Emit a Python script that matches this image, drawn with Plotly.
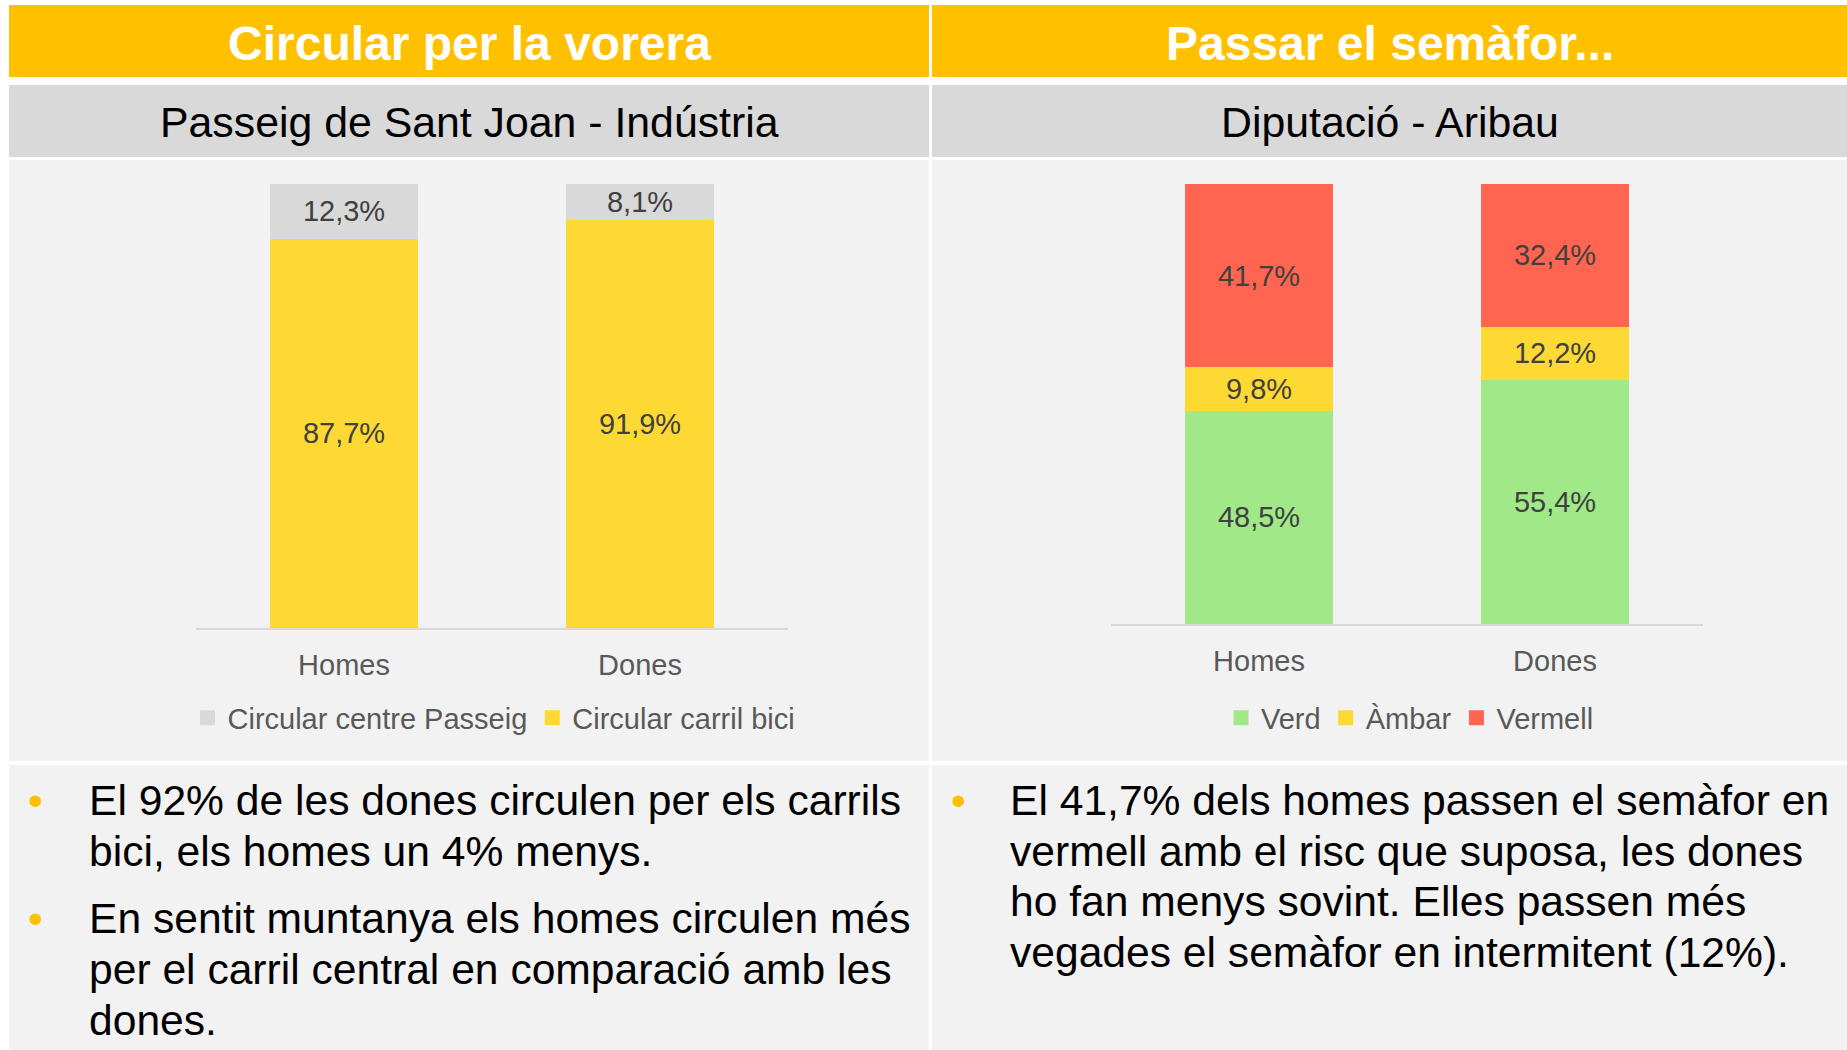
import plotly.graph_objects as go

W, H = 1847, 1050

# ---------------- data ----------------
left_title = "Circular per la vorera"
right_title = "Passar el semàfor..."
left_sub = "Passeig de Sant Joan - Indústria"
right_sub = "Diputació - Aribau"

categories = ["Homes", "Dones"]

carril_bici_name = "Circular carril bici"
centre_passeig_name = "Circular centre Passeig"
carril_bici = [87.7, 91.9]
centre_passeig = [12.3, 8.1]

verd_name, ambar_name, vermell_name = "Verd", "Àmbar", "Vermell"
verd = [48.5, 55.4]
ambar = [9.8, 12.2]
vermell = [41.7, 32.4]

left_notes = [
    ["El 92% de les dones circulen per els carrils", "bici, els homes un 4% menys."],
    ["En sentit muntanya els homes circulen més", "per el carril central en comparació amb les", "dones."],
]
right_notes = [
    ["El 41,7% dels homes passen el semàfor en", "vermell amb el risc que suposa, les dones",
     "ho fan menys sovint. Elles passen més", "vegades el semàfor en intermitent (12%)."],
]

# ---------------- styles ----------------
FONT = "'Liberation Sans', Arial, sans-serif"
C_HEAD = "#FFC000"
C_SUB = "#D9D9D9"
C_PANEL = "#F2F2F2"
C_GRAYBAR = "#D9D9D9"
C_YELLOW = "#FFD933"
C_GREEN = "#A0E888"
C_RED = "#FF6550"
C_LABEL = "#404040"
C_AXIS = "#595959"


def px(x):
    return x / W


def py(y):
    return 1 - y / H


fig = go.Figure()

bar_common = dict(
    texttemplate="%{y:.1f}%",
    textposition="inside",
    insidetextanchor="middle",
    constraintext="none",
    textangle=0,
    textfont=dict(family=FONT, size=29, color=C_LABEL),
    marker_line_width=0,
    hoverinfo="skip",
    showlegend=False,
)

fig.add_trace(go.Bar(x=categories, y=carril_bici, name=carril_bici_name, marker_color=C_YELLOW,
                     xaxis="x", yaxis="y", **bar_common))
fig.add_trace(go.Bar(x=categories, y=centre_passeig, name=centre_passeig_name, marker_color=C_GRAYBAR,
                     xaxis="x", yaxis="y", **bar_common))

fig.add_trace(go.Bar(x=categories, y=verd, name=verd_name, marker_color=C_GREEN,
                     xaxis="x2", yaxis="y2", **bar_common))
fig.add_trace(go.Bar(x=categories, y=ambar, name=ambar_name, marker_color=C_YELLOW,
                     xaxis="x2", yaxis="y2", **bar_common))
fig.add_trace(go.Bar(x=categories, y=vermell, name=vermell_name, marker_color=C_RED,
                     xaxis="x2", yaxis="y2", **bar_common))

# legend entries (square keys like the original)
legend_items = [
    (centre_passeig_name, C_GRAYBAR, "legend", "x", "y"),
    (carril_bici_name, C_YELLOW, "legend", "x", "y"),
    (verd_name, C_GREEN, "legend2", "x2", "y2"),
    (ambar_name, C_YELLOW, "legend2", "x2", "y2"),
    (vermell_name, C_RED, "legend2", "x2", "y2"),
]
for name, color, leg, xa, ya in legend_items:
    fig.add_trace(go.Scatter(x=[None], y=[None], mode="markers", name=name, legend=leg,
                             xaxis=xa, yaxis=ya, hoverinfo="skip",
                             marker=dict(symbol="square", size=15, color=color, line_width=0)))

shapes = []


def rect(x0, y0, x1, y1, color):
    shapes.append(dict(type="rect", xref="paper", yref="paper", x0=px(x0), x1=px(x1),
                       y0=py(y1), y1=py(y0), fillcolor=color, line_width=0, layer="below"))


for (x0, x1) in [(9, 929), (932, 1847)]:
    rect(x0, 5, x1, 77, C_HEAD)
    rect(x0, 85, x1, 157, C_SUB)
    rect(x0, 160, x1, 761, C_PANEL)
    rect(x0, 765, x1, 1050, C_PANEL)

annotations = []


def text(x, y, s, size, color, bold=False, xanchor="center"):
    annotations.append(dict(x=px(x), y=py(y), xref="paper", yref="paper", text=f"<b>{s}</b>" if bold else s,
                            showarrow=False, xanchor=xanchor, yanchor="middle",
                            font=dict(family=FONT, size=size, color=color)))


text(469, 44, left_title, 48, "white", bold=True)
text(1390, 44, right_title, 48, "white", bold=True)
text(469, 122, left_sub, 42.8, "black")
text(1390, 122, right_sub, 42.8, "black")


def notes(paras, bx, tx, first_baseline, line_step, para_step):
    y = first_baseline
    for p in paras:
        text(bx, y - 14, "•", 42, C_HEAD)
        for line in p:
            text(tx, y - 14, line, 42.6, "black", xanchor="left")
            y += line_step
        y += para_step - line_step


notes(left_notes, 35, 87, 814, 51, 67)
notes(right_notes, 958, 1008, 814, 50.7, 67)

axis_common = dict(showline=True, linecolor="#D9D9D9", linewidth=2, ticks="", showgrid=False,
                   zeroline=False, tickfont=dict(family=FONT, size=29, color=C_AXIS), fixedrange=True,
                   ticklabelstandoff=10)
yaxis_common = dict(range=[0, 100], visible=False, fixedrange=True)

legend_common = dict(orientation="h", xanchor="center", yanchor="middle", y=py(718),
                     font=dict(family=FONT, size=29, color=C_AXIS), bgcolor="rgba(0,0,0,0)",
                     itemwidth=30, itemclick=False, itemdoubleclick=False, traceorder="normal")

fig.update_layout(
    width=W, height=H,
    margin=dict(l=0, r=0, t=0, b=0),
    paper_bgcolor="white", plot_bgcolor="rgba(0,0,0,0)",
    barmode="stack", bargap=0.5,
    separators=",.",
    font=dict(family=FONT),
    xaxis=dict(domain=[px(196), px(788)], anchor="y", **axis_common),
    yaxis=dict(domain=[py(628), py(184)], anchor="x", **yaxis_common),
    xaxis2=dict(domain=[px(1111), px(1703)], anchor="y2", **axis_common),
    yaxis2=dict(domain=[py(624), py(184)], anchor="x2", **yaxis_common),
    legend=dict(x=px(494), **legend_common),
    legend2=dict(x=px(1410), **legend_common),
    shapes=shapes,
    annotations=annotations,
    showlegend=True,
)

fig.write_html("out.html", config={"displayModeBar": False, "responsive": False},
               post_script="document.body.style.margin='0';document.body.style.overflow='hidden';")
